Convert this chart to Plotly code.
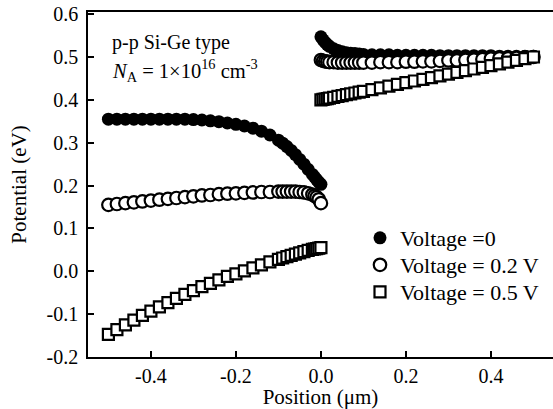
import plotly.graph_objects as go

# ---- data ----
x_left = [-0.50, -0.48, -0.46, -0.44, -0.42, -0.40, -0.38, -0.36, -0.34, -0.32,
          -0.30, -0.28, -0.26, -0.24, -0.22, -0.20, -0.18, -0.16, -0.14, -0.12,
          -0.10, -0.09, -0.08, -0.07, -0.06, -0.05, -0.04, -0.03, -0.02, -0.015,
          -0.01, -0.005, 0.0]
x_right = [0.0, 0.005, 0.01, 0.015, 0.02, 0.03, 0.04, 0.05, 0.06, 0.07, 0.08,
           0.09, 0.10, 0.12, 0.14, 0.16, 0.18, 0.20, 0.22, 0.24, 0.26, 0.28,
           0.30, 0.32, 0.34, 0.36, 0.38, 0.40, 0.42, 0.44, 0.46, 0.48, 0.50]

v0_left = [0.355, 0.355, 0.355, 0.355, 0.355, 0.355, 0.355, 0.355, 0.355, 0.355,
           0.354, 0.353, 0.351, 0.349, 0.346, 0.343, 0.339, 0.334, 0.327, 0.318,
           0.306, 0.299, 0.291, 0.282, 0.272, 0.261, 0.250, 0.238, 0.226, 0.220,
           0.214, 0.208, 0.203]
v0_right = [0.547, 0.540, 0.534, 0.529, 0.525, 0.519, 0.515, 0.512, 0.510, 0.509,
            0.508, 0.507, 0.506, 0.505, 0.505, 0.505, 0.504, 0.504, 0.504, 0.504,
            0.504, 0.503, 0.503, 0.503, 0.503, 0.503, 0.503, 0.503, 0.502, 0.502,
            0.502, 0.502, 0.502]

v02_left = [0.155, 0.157, 0.159, 0.161, 0.163, 0.165, 0.167, 0.169, 0.171, 0.173,
            0.175, 0.177, 0.178, 0.180, 0.181, 0.182, 0.183, 0.184, 0.185, 0.185,
            0.186, 0.186, 0.186, 0.186, 0.186, 0.185, 0.184, 0.182, 0.179, 0.176,
            0.173, 0.168, 0.159]
v02_right = [0.493, 0.491, 0.490, 0.489, 0.488, 0.488, 0.487, 0.487, 0.487, 0.487,
             0.487, 0.487, 0.487, 0.487, 0.488, 0.488, 0.488, 0.489, 0.489, 0.490,
             0.490, 0.491, 0.492, 0.492, 0.493, 0.494, 0.495, 0.496, 0.497, 0.497,
             0.498, 0.499, 0.500]

v05_left = [-0.147, -0.136, -0.125, -0.114, -0.103, -0.093, -0.083, -0.073, -0.063, -0.054,
            -0.045, -0.036, -0.028, -0.020, -0.012, -0.006, 0.001, 0.008, 0.015, 0.022,
            0.028, 0.031, 0.034, 0.037, 0.040, 0.043, 0.046, 0.049, 0.051, 0.052,
            0.053, 0.054, 0.055]
v05_right = [0.400, 0.401, 0.402, 0.403, 0.404, 0.406, 0.408, 0.410, 0.412, 0.414,
             0.416, 0.418, 0.420, 0.424, 0.428, 0.432, 0.436, 0.440, 0.444, 0.448,
             0.452, 0.456, 0.460, 0.464, 0.468, 0.472, 0.476, 0.480, 0.484, 0.488,
             0.492, 0.496, 0.500]

labels = ["Voltage =0", "Voltage = 0.2 V", "Voltage = 0.5 V"]
x_ticks = [-0.4, -0.2, 0.0, 0.2, 0.4]
x_ticktext = ["-0.4", "-0.2", "0.0", "0.2", "0.4"]
y_ticks = [-0.2, -0.1, 0.0, 0.1, 0.2, 0.3, 0.4, 0.5, 0.6]
y_ticktext = ["-0.2", "-0.1", "0.0", "0.1", "0.2", "0.3", "0.4", "0.5", "0.6"]

FONT = "Liberation Serif"

# plot-area geometry (pixels) used to place legends/annotations
L, R, T, B = 88, 0, 12, 52
W, H = 553, 409
pw, ph = W - L - R, H - T - B

fig = go.Figure()
fig.add_trace(go.Scatter(
    x=x_left + x_right, y=v0_left + v0_right, mode="markers", name=labels[0],
    legend="legend",
    marker=dict(symbol="circle", size=13, color="black", line=dict(width=0))))
fig.add_trace(go.Scatter(
    x=x_left + x_right, y=v02_left + v02_right, mode="markers", name=labels[1],
    legend="legend2",
    marker=dict(symbol="circle", size=12.5, color="white", line=dict(width=2.2, color="black"))))
fig.add_trace(go.Scatter(
    x=x_left + x_right, y=v05_left + v05_right, mode="markers", name=labels[2],
    legend="legend3",
    marker=dict(symbol="square", size=11, color="white", line=dict(width=2.2, color="black"))))

def leg(py):
    return dict(x=(360 - L) / pw, y=(H - B - py) / ph, xanchor="left", yanchor="middle",
                bgcolor="rgba(0,0,0,0)", font=dict(size=22, family=FONT, color="black"),
                itemsizing="trace")

fig.update_layout(
    width=W, height=H,
    margin=dict(l=L, r=R, t=T, b=B),
    paper_bgcolor="white", plot_bgcolor="white",
    font=dict(family=FONT, size=20, color="black"),
    showlegend=True,
    legend=leg(238), legend2=leg(265), legend3=leg(292),
    xaxis=dict(range=[-0.548, 0.546], tickvals=x_ticks, ticktext=x_ticktext,
               ticks="inside", ticklen=6, tickwidth=1.5, tickcolor="black",
               showline=True, linewidth=1.5, linecolor="black", mirror=True,
               showgrid=False, zeroline=False,
               title=dict(text="Position (μm)", font=dict(size=21, family=FONT, color="black"), standoff=3),
               tickfont=dict(size=20, family=FONT, color="black")),
    yaxis=dict(range=[-0.2, 0.605], tickvals=y_ticks,
               ticktext=[t + "\u2009" for t in y_ticktext],
               ticks="inside", ticklen=6, tickwidth=1.5, tickcolor="black",
               showline=True, linewidth=1.5, linecolor="black",
               showgrid=False, zeroline=False,
               title=dict(text="Potential (eV)", font=dict(size=21, family=FONT, color="black"), standoff=14),
               tickfont=dict(size=20, family=FONT, color="black")),
)

fig.add_annotation(x=(110 - L) / pw, y=(H - B - 42) / ph, xref="paper", yref="paper",
                   text="p-p Si-Ge type", showarrow=False, xanchor="left", yanchor="middle",
                   font=dict(size=20, family=FONT, color="black"))
fig.add_annotation(x=(110 - L) / pw, y=(H - B - 70) / ph, xref="paper", yref="paper",
                   text="<i>N</i><sub>A</sub> = 1×10<sup>16</sup> cm<sup>-3</sup>",
                   showarrow=False, xanchor="left", yanchor="middle",
                   font=dict(size=20.5, family=FONT, color="black"))

fig.write_html("out.html")
